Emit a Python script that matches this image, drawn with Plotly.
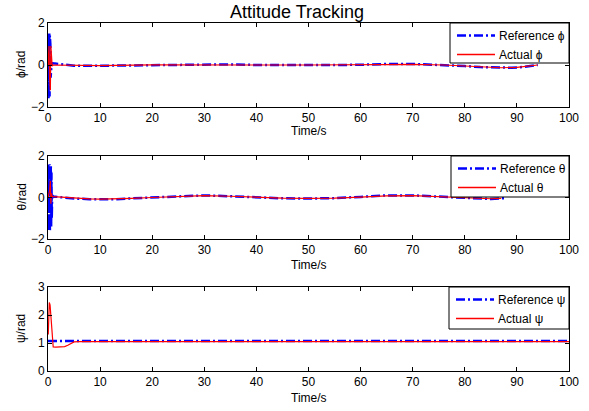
import plotly.graph_objects as go

# ---------------- data ----------------
t_phi_ref = [0.0, 0.05, 0.1, 0.15, 0.2, 0.25, 0.3, 0.35, 0.4, 0.45, 0.5,
             0.7, 1, 3, 5, 8, 12, 15, 18, 22, 26, 30, 35, 40, 45, 50, 55,
             60, 65, 70, 73, 76, 80, 83, 86, 89, 91, 93, 94]
phi_ref = [0.0, 1.5, -1.6, 1.5, -1.6, 1.5, -1.5, 1.4, -1.4, 1.0, -0.6,
           0.1, 0.08, 0.02, -0.03, -0.04, -0.03, -0.01, 0.01, 0.03, 0.04, 0.04, 0.03, 0.0, -0.01, 0.0, 0.0,
           0.01, 0.05, 0.05, 0.03, 0.0, -0.05, -0.1, -0.13, -0.13, -0.1, -0.04, 0.0]

t_phi_act = [0.0, 0.2, 0.3, 0.45, 0.55, 0.65, 0.8, 1, 5, 10, 20, 30, 40, 50, 60,
             70, 76, 80, 84, 87, 90, 92, 94]
phi_act = [0.0, 0.9, -0.6, -1.2, 0.9, 0.1, -0.05, 0.0, -0.02, -0.03, 0.01, 0.02, 0.0, 0.0, 0.01,
           0.03, 0.0, -0.04, -0.1, -0.13, -0.11, -0.06, 0.0]

t_theta_ref = [0.0, 0.06, 0.12, 0.18, 0.24, 0.3, 0.36, 0.42, 0.48, 0.54, 0.6, 0.66, 0.72,
               0.8, 1, 3, 5, 8, 10, 13, 16, 20, 25, 30, 35, 40, 45, 50, 55, 60,
               65, 70, 75, 78, 82, 85, 88]
theta_ref = [0.0, 1.6, -1.6, 1.6, -1.6, 1.6, -1.6, 1.5, -1.5, 1.5, -1.4, 1.2, -1.0,
             0.1, 0.05, 0.0, -0.05, -0.08, -0.09, -0.08, -0.04, 0.0, 0.06, 0.1, 0.06, 0.0, -0.04, -0.05, -0.03, 0.03,
             0.1, 0.1, 0.04, -0.02, -0.06, -0.07, -0.03]

t_theta_act = [0.0, 0.3, 0.45, 0.55, 0.65, 0.8, 1, 3, 5, 8, 10, 13, 16, 20, 25, 30, 35,
               40, 45, 50, 55, 60, 65, 70, 75, 78, 82, 85, 87]
theta_act = [0.0, 0.3, 0.8, -0.3, 0.2, 0.05, 0.04, 0.0, -0.04, -0.07, -0.08, -0.07, -0.04, 0.0, 0.05, 0.09, 0.06,
             0.0, -0.03, -0.04, -0.03, 0.02, 0.08, 0.09, 0.04, -0.01, -0.05, -0.06, -0.04]

t_psi_ref = [0.0, 100.0]
psi_ref = [1.07, 1.07]

t_psi_act = [0.05, 0.25, 0.4, 0.55, 0.7, 1.0, 1.5, 2.5, 3.2, 3.8, 4.4, 5.0, 6.0, 100.0]
psi_act = [1.3, 2.45, 2.35, 2.0, 1.5, 0.86, 0.85, 0.85, 0.87, 0.92, 0.98, 1.04, 1.05, 1.05]

x_ticks = [0, 10, 20, 30, 40, 50, 60, 70, 80, 90, 100]
y_ticks_pt = [-2, 0, 2]
y_ticks_psi = [0, 1, 2, 3]

title_text = "Attitude Tracking"
x_label = "Time/s"
y_labels = ["ϕ/rad", "θ/rad", "ψ/rad"]
legend_ref = ["Reference ϕ", "Reference θ", "Reference ψ"]
legend_act = ["Actual ϕ", "Actual θ", "Actual ψ"]

# ---------------- layout geometry ----------------
W, H = 589, 411
X0, X1 = 48, 569
rows_px = [(23, 107), (156, 239), (287, 371)]
xlabel_off = [24, 26, 27]
legend_box = [(450, 63), (451, 197), (449, 329)]   # (left px, bottom px); top/right = axes
FONT = "Liberation Sans, Arial, sans-serif"
BLUE, RED = "#0000ff", "#ff0000"
blue_dash = "9px,3px,2px,3px"

def py(p):
    return 1 - p / H

def px(p):
    return p / W

fig = go.Figure()

series = [
    (t_phi_ref, phi_ref, t_phi_act, phi_act),
    (t_theta_ref, theta_ref, t_theta_act, theta_act),
    (t_psi_ref, psi_ref, t_psi_act, psi_act),
]

for i, (tr, yr, ta, ya) in enumerate(series):
    sfx = "" if i == 0 else str(i + 1)
    fig.add_trace(go.Scatter(x=tr, y=yr, mode="lines", name=legend_ref[i],
                             line=dict(color=BLUE, width=2.5, dash=blue_dash),
                             xaxis="x" + sfx, yaxis="y" + sfx, showlegend=False))
    fig.add_trace(go.Scatter(x=ta, y=ya, mode="lines", name=legend_act[i],
                             line=dict(color=RED, width=1.2),
                             xaxis="x" + sfx, yaxis="y" + sfx, showlegend=False))

axis_common = dict(showline=True, linecolor="black", linewidth=1, mirror="ticks",
                   ticks="inside", ticklen=4, tickcolor="black", showgrid=False,
                   zeroline=False, automargin=False,
                   tickfont=dict(family=FONT, size=12, color="black"))

layout = dict(
    width=W, height=H,
    margin=dict(l=0, r=0, t=0, b=0),
    paper_bgcolor="white", plot_bgcolor="white",
    font=dict(family=FONT, size=12, color="black"),
    showlegend=False,
)

annotations = [dict(text=title_text, x=px(297), y=py(12), xref="paper", yref="paper",
                    showarrow=False, font=dict(family=FONT, size=18, color="black"),
                    xanchor="center", yanchor="middle")]
shapes = []

for i, (top, bot) in enumerate(rows_px):
    sfx = "" if i == 0 else str(i + 1)
    yr = [-2, 2] if i < 2 else [0, 3]
    yt = y_ticks_pt if i < 2 else y_ticks_psi
    layout["xaxis" + sfx] = dict(axis_common, domain=[px(X0), px(X1)], range=[0, 100],
                                 tickvals=x_ticks, anchor="y" + sfx)
    layout["yaxis" + sfx] = dict(axis_common, domain=[py(bot), py(top)], range=yr,
                                 tickvals=yt, anchor="x" + sfx)
    annotations.append(dict(text=x_label, x=px((X0 + X1) / 2), y=py(bot + xlabel_off[i]),
                            xref="paper", yref="paper", showarrow=False,
                            font=dict(family=FONT, size=12, color="black"),
                            xanchor="center", yanchor="middle"))
    annotations.append(dict(text=y_labels[i], x=px(21), y=py((top + bot) / 2),
                            xref="paper", yref="paper", showarrow=False, textangle=-90,
                            font=dict(family=FONT, size=12, color="black"),
                            xanchor="center", yanchor="middle"))

    # legend box (drawn manually to match MATLAB legend size)
    lx, lb = legend_box[i]
    shapes.append(dict(type="rect", xref="paper", yref="paper",
                       x0=px(lx), x1=px(X1), y0=py(lb), y1=py(top),
                       fillcolor="white", line=dict(color="black", width=1), layer="above"))
    for j, (name, col, wid, dash) in enumerate([(legend_ref[i], BLUE, 2.5, blue_dash),
                                                (legend_act[i], RED, 1.5, "solid")]):
        yc = top + 12 + 19 * j + 0.5
        shapes.append(dict(type="line", xref="paper", yref="paper",
                           x0=px(lx + 7), x1=px(lx + 45), y0=py(yc), y1=py(yc),
                           line=dict(color=col, width=wid, dash=dash), layer="above"))
        annotations.append(dict(text=name, x=px(lx + 47), y=py(yc), xref="paper", yref="paper",
                                showarrow=False, xanchor="left", yanchor="middle",
                                font=dict(family=FONT, size=12, color="black")))

layout["annotations"] = annotations
layout["shapes"] = shapes
fig.update_layout(**layout)

fig.write_html("out.html", config={"displayModeBar": False},
               post_script="document.body.style.margin='0px';")
